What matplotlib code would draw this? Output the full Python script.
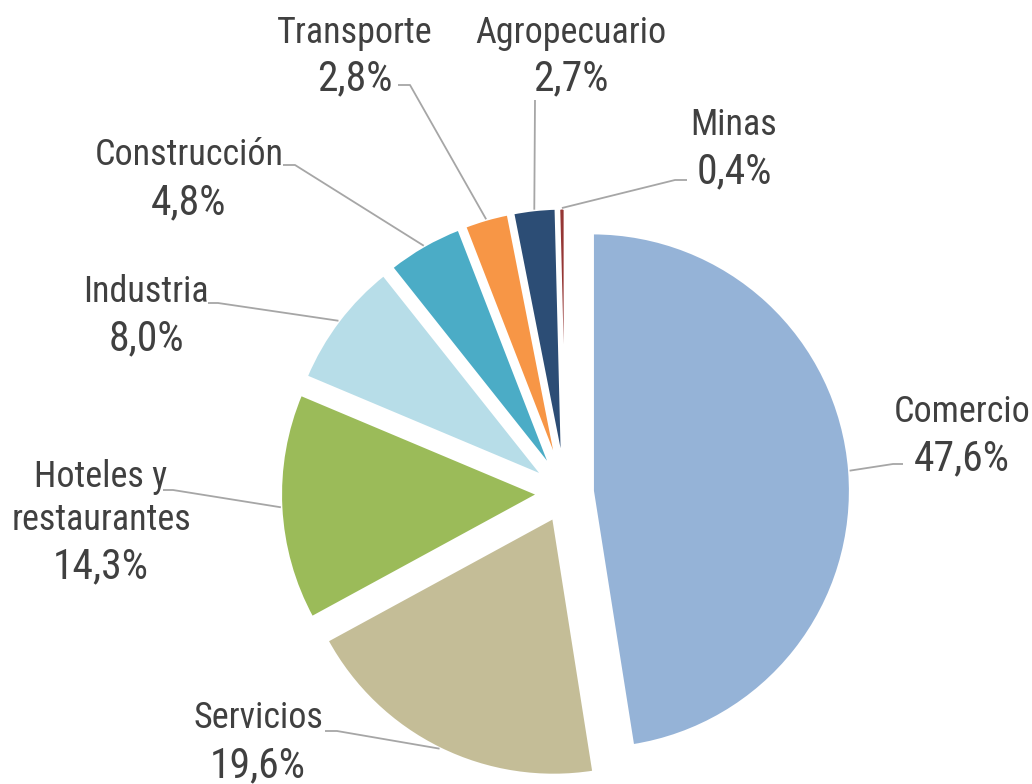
import matplotlib
matplotlib.use('Agg')
import matplotlib.pyplot as plt
from matplotlib import font_manager
import numpy as np

# ============================================
# Data: share by sector (%)
# ============================================
sectors = ['Comercio', 'Servicios', 'Hoteles y\nrestaurantes', 'Industria',
           'Construcción', 'Transporte', 'Agropecuario', 'Minas']
shares = [47.6, 19.6, 14.3, 8.0, 4.8, 2.8, 2.7, 0.4]
pct_labels = ['47,6%', '19,6%', '14,3%', '8,0%', '4,8%', '2,8%', '2,7%', '0,4%']
colors = ['#95B3D7', '#C4BD97', '#9BBB59', '#B7DDE8',
          '#4BACC6', '#F79646', '#2C4D75', '#953735']

# ============================================
# Layout (pixel units, image y measured from top)
# ============================================
W, H = 1032, 784
pie_cx, pie_cy, pie_r, gap = 565.5, 493, 258, 27

# label centre x, name baseline, pct baseline
label_pos = [(962, 422, 470), (258, 728, 777), (101, 487, 578), (146, 302, 350),
             (189, 165, 214), (355, 43, 90), (571, 43, 90), (734, 135, 183)]
# leader elbow and end point
leader_pts = [((893, 464), (903, 464)), ((337, 731), (325, 731)),
              ((173, 490), (163, 490)), ((218, 303), (208, 303)),
              ((295, 165), (283, 165)), ((410, 85), (398, 85)),
              ((535, 100), (535, 100)), ((675, 180), (687, 180))]

text_color = '#404040'
line_color = '#A6A6A6'

# Narrow font if there is one, otherwise Arial-like at a smaller size
installed = {f.name for f in font_manager.fontManager.ttflist}
font, name_size, pct_size = 'Liberation Sans', 22.5, 26
for cand in ['Liberation Sans Narrow', 'Arial Narrow', 'Roboto Condensed']:
    if cand in installed:
        font, name_size, pct_size = cand, 26, 30
        break


def iy(y):
    return H - y


fig = plt.figure(figsize=(W / 100, H / 100), dpi=100)
ax = fig.add_axes([0, 0, 1, 1])

wedges, _ = ax.pie(shares, colors=colors, startangle=90, counterclock=False,
                   explode=[gap] * len(shares), center=(pie_cx, iy(pie_cy)),
                   radius=pie_r,
                   wedgeprops=dict(edgecolor='white', linewidth=2.2))

ax.set_xlim(0, W)
ax.set_ylim(0, H)
ax.set_aspect('equal')
ax.axis('off')

for w, name, pct, (lx, nb, pb), (elbow, end) in zip(
        wedges, sectors, pct_labels, label_pos, leader_pts):
    # leader starts at the mid-angle of the outer arc
    ang = np.deg2rad((w.theta1 + w.theta2) / 2)
    sx = w.center[0] + w.r * np.cos(ang)
    sy = w.center[1] + w.r * np.sin(ang)
    ax.plot([sx, elbow[0], end[0]], [sy, iy(elbow[1]), iy(end[1])],
            color=line_color, lw=1.3, solid_capstyle='butt')

    lines = name.split('\n')
    for i, ln in enumerate(lines):
        ax.text(lx, iy(nb + 43 * i), ln, ha='center', va='baseline',
                fontsize=name_size, color=text_color, family=[font, 'DejaVu Sans'])
    ax.text(lx, iy(pb), pct, ha='center', va='baseline',
            fontsize=pct_size, color=text_color, family=[font, 'DejaVu Sans'])

fig.savefig('out.png', dpi=100, facecolor='white')
